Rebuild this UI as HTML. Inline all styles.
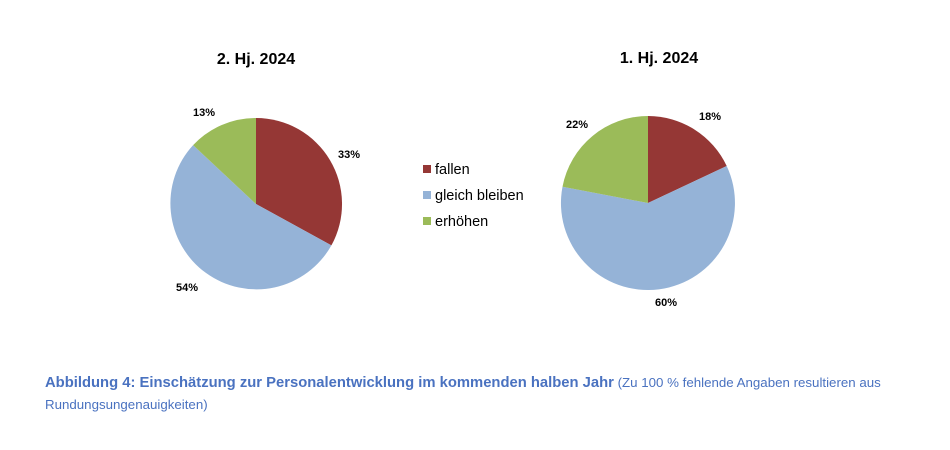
<!DOCTYPE html>
<html><head><meta charset="utf-8"><style>
body{margin:0;background:#fff;width:950px;height:450px;overflow:hidden;font-family:"Liberation Sans",sans-serif}
svg text{font-family:"Liberation Sans",sans-serif}
.cap{position:absolute;left:45px;top:372px;width:880px;color:#4a72c0;font-size:13.3px;line-height:21px}
.cap b{font-size:14.8px}
</style></head><body>
<svg width="950" height="450" style="position:absolute;left:0;top:0">
<text x="256" y="64" text-anchor="middle" font-weight="bold" font-size="16">2. Hj. 2024</text>
<text x="659" y="63" text-anchor="middle" font-weight="bold" font-size="16">1. Hj. 2024</text>
<path d="M256,204 L256,118 A86,86 0 0 1 331.4,245.4 Z" fill="#953735"/>
<path d="M256,204 L331.4,245.4 A86,86 0 1 1 193.1,145.1 Z" fill="#95b3d7"/>
<path d="M256,204 L193.1,145.1 A86,86 0 0 1 256,118 Z" fill="#9bbb59"/>
<text x="338" y="158" font-weight="bold" font-size="11">33%</text>
<text x="176" y="291" font-weight="bold" font-size="11">54%</text>
<text x="193" y="116" font-weight="bold" font-size="11">13%</text>
<path d="M648,203 L648,116 A87,87 0 0 1 726.7,166.0 Z" fill="#953735"/>
<path d="M648,203 L726.7,166.0 A87,87 0 1 1 562.5,186.7 Z" fill="#95b3d7"/>
<path d="M648,203 L562.5,186.7 A87,87 0 0 1 648,116 Z" fill="#9bbb59"/>
<text x="699" y="120" font-weight="bold" font-size="11">18%</text>
<text x="655" y="306" font-weight="bold" font-size="11">60%</text>
<text x="566" y="128" font-weight="bold" font-size="11">22%</text>
<rect x="423" y="165" width="8" height="8" fill="#953735"/>
<text x="435" y="174" font-size="14.5">fallen</text>
<rect x="423" y="191" width="8" height="8" fill="#95b3d7"/>
<text x="435" y="200" font-size="14.5">gleich bleiben</text>
<rect x="423" y="217" width="8" height="8" fill="#9bbb59"/>
<text x="435" y="226" font-size="14.5">erhöhen</text>
</svg>
<div class="cap"><b>Abbildung 4: Einschätzung zur Personalentwicklung im kommenden halben Jahr</b> (Zu 100 % fehlende Angaben resultieren aus Rundungsungenauigkeiten)</div>
</body></html>
